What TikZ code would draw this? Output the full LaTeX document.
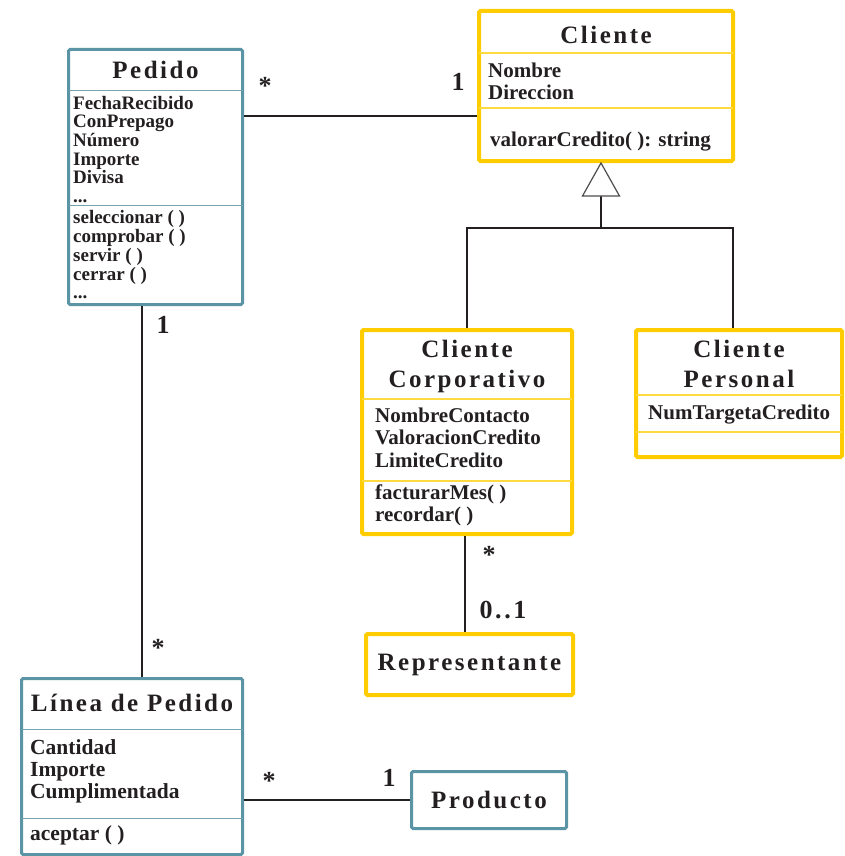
\documentclass[tikz,border=0pt]{standalone}
\usepackage{fontspec}
\setmainfont{Liberation Serif}
\newfontfamily\titlefont[LetterSpace=10]{Liberation Serif}
\definecolor{umlteal}{HTML}{5B95A5}
\definecolor{umlyellow}{HTML}{FFCC00}
\definecolor{inkgray}{HTML}{231F20}

\begin{document}
\begin{tikzpicture}[x=1pt, y=-1pt,
  tealclass/.style={draw=umlteal, line width=3pt, rounded corners=1.5pt, inner sep=0pt},
  yellowclass/.style={draw=umlyellow, line width=4pt, rounded corners=1.5pt, inner sep=0pt},
  tealsep/.style={draw=umlteal!85, line width=1pt, shorten <=1.5pt, shorten >=1.5pt},
  yellowsep/.style={draw=umlyellow!75, line width=1.2pt, shorten <=2pt, shorten >=2pt},
  classname/.style={font=\titlefont\bfseries\fontsize{25}{30}\selectfont, text=inkgray, inner sep=0pt, align=center},
  members/.style={font=\bfseries\fontsize{21}{22}\selectfont, text=inkgray, inner sep=0pt, align=left, anchor=north west},
  assoc/.style={draw=inkgray, line width=2.8pt},
  gentri/.style={draw=inkgray!80, line width=1.2pt, fill=white, line join=miter},
  mult/.style={font=\titlefont\bfseries\fontsize{26}{26}\selectfont, text=inkgray, inner sep=0pt}]
  \useasboundingbox (0,0) rectangle (844,856);

  % Pedido
  \node[tealclass, minimum width=174pt, minimum height=255pt] (pedido) at (155.5,177) {};
  \node[classname] (pedido-name) at ([yshift=-22]pedido.north) {Pedido};
  \draw[tealsep] ([yshift=-43]pedido.north west) -- ([yshift=-43]pedido.north east);
  \draw[tealsep] ([yshift=-157]pedido.north west) -- ([yshift=-157]pedido.north east);
  \node[members, font=\bfseries\fontsize{19}{18.6}\selectfont] (pedido-attr) at ([xshift=6,yshift=-48]pedido.north west)
    {FechaRecibido\\ConPrepago\\Número\\Importe\\Divisa\\...};
  \node[members, font=\bfseries\fontsize{19}{18.9}\selectfont] (pedido-ops) at ([xshift=6,yshift=-162]pedido.north west)
    {seleccionar ( )\\comprobar ( )\\servir ( )\\cerrar ( )\\...};

  % Cliente
  \node[yellowclass, minimum width=254pt, minimum height=150pt] (cliente) at (606,86) {};
  \node[classname] (cliente-name) at ([yshift=-26]cliente.north) {Cliente};
  \draw[yellowsep] ([yshift=-44]cliente.north west) -- ([yshift=-44]cliente.north east);
  \draw[yellowsep] ([yshift=-99]cliente.north west) -- ([yshift=-99]cliente.north east);
  \node[members] (cliente-attr) at ([xshift=11,yshift=-54]cliente.north west) {Nombre\\Direccion};
  \node[members] (cliente-ops) at ([xshift=13,yshift=-122.5]cliente.north west) {valorarCredito( ): string};

  % Cliente Corporativo
  \node[yellowclass, minimum width=210pt, minimum height=204pt] (corp) at (467,432) {};
  \node[classname] (corp-name) at ([yshift=-38.5]corp.north) {Cliente\\Corporativo};
  \draw[yellowsep] ([yshift=-71]corp.north west) -- ([yshift=-71]corp.north east);
  \draw[yellowsep] ([yshift=-153]corp.north west) -- ([yshift=-153]corp.north east);
  \node[members, font=\bfseries\fontsize{21}{22.5}\selectfont] (corp-attr) at ([xshift=15,yshift=-79.5]corp.north west)
    {NombreContacto\\ValoracionCredito\\LimiteCredito};
  \node[members] (corp-ops) at ([xshift=15,yshift=-157]corp.north west) {facturarMes( )\\recordar( )};

  % Cliente Personal
  \node[yellowclass, minimum width=206pt, minimum height=127pt] (pers) at (739,393.5) {};
  \node[classname] (pers-name) at ([yshift=-35.5]pers.north) {Cliente\\Personal};
  \draw[yellowsep] ([yshift=-67]pers.north west) -- ([yshift=-67]pers.north east);
  \draw[yellowsep] ([yshift=-104]pers.north west) -- ([yshift=-104]pers.north east);
  \node[members] (pers-attr) at ([xshift=14,yshift=-76.5]pers.north west) {NumTargetaCredito};

  % Representante
  \node[yellowclass, minimum width=207pt, minimum height=61pt] (repr) at (469.5,664.5) {};
  \node[classname] (repr-name) at (repr.center) {Representante};

  % Linea de Pedido
  \node[tealclass, minimum width=221pt, minimum height=176pt] (linea) at (132,766.5) {};
  \node[classname] (linea-name) at ([yshift=-26]linea.north) {Línea de Pedido};
  \draw[tealsep] ([yshift=-52]linea.north west) -- ([yshift=-52]linea.north east);
  \draw[tealsep] ([yshift=-141]linea.north west) -- ([yshift=-141]linea.north east);
  \node[members, font=\bfseries\fontsize{21.5}{22}\selectfont] (linea-attr) at ([xshift=10,yshift=-62]linea.north west)
    {Cantidad\\Importe\\Cumplimentada};
  \node[members, font=\bfseries\fontsize{21.5}{22}\selectfont] (linea-ops) at ([xshift=10,yshift=-148]linea.north west)
    {aceptar ( )};

  % Producto
  \node[tealclass, minimum width=155pt, minimum height=57pt] (producto) at (489,800) {};
  \node[classname] (producto-name) at (producto.center) {Producto};

  % asociaciones
  \coordinate (pc) at ([yshift=-68]pedido.north east);
  \draw[assoc] (pc) -- (pc -| cliente.west);
  \coordinate (pl) at ([xshift=-13.5]pedido.south);
  \draw[assoc] (pl) -- (pl |- linea.north);
  \coordinate (cr) at ([xshift=-2]corp.south);
  \draw[assoc] (cr) -- (cr |- repr.north);
  \draw[assoc] (producto.west) -- (producto.west -| linea.east);

  % generalizacion
  \coordinate (tritip) at ([xshift=-5]cliente.south);
  \coordinate (tribase) at ([yshift=-33]tritip);
  \coordinate (genjoin) at ([yshift=-32]tribase);
  \draw[assoc] (tribase) -- (genjoin);
  \draw[assoc] (corp.north) |- (genjoin) -| ([xshift=-6]pers.north);
  \draw[gentri] (tritip) -- ++(-18.5,33) -- ++(37,0) -- cycle;

  % multiplicidades
  \node[mult] (m-pc-a) at (265,86) {*};
  \node[mult] (m-pc-b) at (458,82) {1};
  \node[mult] (m-pl-a) at (163,325) {1};
  \node[mult] (m-pl-b) at (158,648) {*};
  \node[mult] (m-cr-a) at (489,555) {*};
  \node[mult] (m-cr-b) at (503,610) {0..1};
  \node[mult] (m-lp-a) at (269,781) {*};
  \node[mult] (m-lp-b) at (389,778) {1};
\end{tikzpicture}
\end{document}
